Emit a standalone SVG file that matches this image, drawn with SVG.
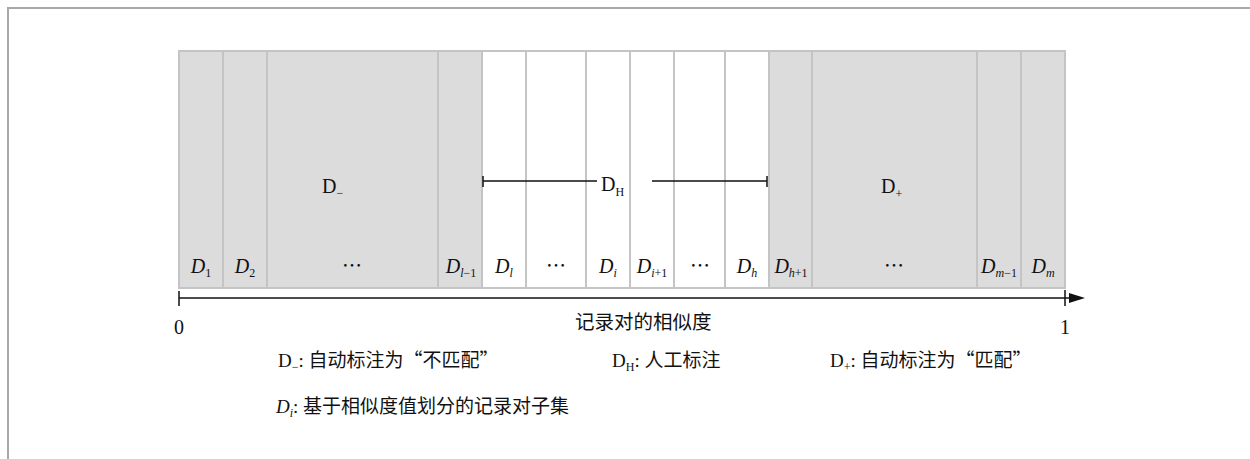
<svg xmlns="http://www.w3.org/2000/svg" width="1250" height="459" viewBox="0 0 1250 459">
<style>
.g{fill:#dcdcdc;stroke:#c4c4c4;stroke-width:2}
.w{fill:#ffffff;stroke:#c4c4c4;stroke-width:2}
.t{font-family:"Liberation Serif","Noto Sans CJK SC",serif;fill:#111;font-size:20px}
.i{font-style:italic}
.s{font-size:12px;font-style:normal}
.si{font-size:12px;font-style:italic}
.cn{font-family:"Liberation Serif","Noto Sans CJK SC",serif;fill:#111;font-size:19px}
.zh{font-family:"Noto Sans CJK SC",sans-serif}
.ln{stroke:#111;stroke-width:1.5;fill:none}
</style>
<defs>
<marker id="arr" markerWidth="16" markerHeight="10" refX="0" refY="5" orient="auto" markerUnits="userSpaceOnUse">
<path d="M0,0 L16,5 L0,10 Z" fill="#111"/>
</marker>
</defs>
<g id="frame">
<path d="M8,459 L8,8 L1250,8" fill="none" stroke="#a8a8a8" stroke-width="2"/>
</g>
<g id="columns">
<rect id="c1" class="g" x="179" y="51" width="44" height="237"/>
<rect id="c2" class="g" x="223" y="51" width="44" height="237"/>
<rect id="c3" class="g" x="267" y="51" width="171" height="237"/>
<rect id="c4" class="g" x="438" y="51" width="44" height="237"/>
<rect id="c5" class="w" x="482" y="51" width="44" height="237"/>
<rect id="c6" class="w" x="526" y="51" width="60" height="237"/>
<rect id="c7" class="w" x="586" y="51" width="44" height="237"/>
<rect id="c8" class="w" x="630" y="51" width="44" height="237"/>
<rect id="c9" class="w" x="674" y="51" width="51" height="237"/>
<rect id="c10" class="w" x="725" y="51" width="44" height="237"/>
<rect id="c11" class="g" x="769" y="51" width="43" height="237"/>
<rect id="c12" class="g" x="812" y="51" width="165" height="237"/>
<rect id="c13" class="g" x="977" y="51" width="44" height="237"/>
<rect id="c14" class="g" x="1021" y="51" width="44" height="237"/>
</g>
<g id="column-labels" class="t" text-anchor="middle">
<text x="201" y="273"><tspan class="i">D</tspan><tspan class="s" dy="4">1</tspan></text>
<text x="245" y="273"><tspan class="i">D</tspan><tspan class="s" dy="4">2</tspan></text>
<text x="352" y="273">⋯</text>
<text x="461" y="273"><tspan class="i">D</tspan><tspan class="si" dy="4">l</tspan><tspan class="s">−1</tspan></text>
<text x="504" y="273"><tspan class="i">D</tspan><tspan class="si" dy="4">l</tspan></text>
<text x="556" y="273">⋯</text>
<text x="608" y="273"><tspan class="i">D</tspan><tspan class="si" dy="4">i</tspan></text>
<text x="652" y="273"><tspan class="i">D</tspan><tspan class="si" dy="4">i</tspan><tspan class="s">+1</tspan></text>
<text x="700" y="273">⋯</text>
<text x="747" y="273"><tspan class="i">D</tspan><tspan class="si" dy="4">h</tspan></text>
<text x="791" y="273"><tspan class="i">D</tspan><tspan class="si" dy="4">h</tspan><tspan class="s">+1</tspan></text>
<text x="894" y="273">⋯</text>
<text x="999" y="273"><tspan class="i">D</tspan><tspan class="si" dy="4">m</tspan><tspan class="s">−1</tspan></text>
<text x="1043" y="273"><tspan class="i">D</tspan><tspan class="si" dy="4">m</tspan></text>
</g>
<g id="group-labels" class="t">
<text x="322" y="193">D<tspan class="s" dy="4">−</tspan></text>
<text x="601" y="191">D<tspan class="s" dy="5">H</tspan></text>
<text x="881" y="193">D<tspan class="s" dy="5">+</tspan></text>
</g>
<g id="connectors">
<path class="ln" d="M483,181 L597,181 M652,181 L767,181 M483,176 L483,187 M767,176 L767,187"/>
<path class="ln" d="M179,298 L1069,298" marker-end="url(#arr)"/>
<path class="ln" d="M179,291 L179,306 M1065,290 L1065,306"/>
</g>
<g id="axis-labels">
<text class="t" x="174" y="334">0</text>
<text class="t" x="1060" y="334">1</text>
<text class="cn zh" x="575" y="329" style="font-size:19.5px">记录对的相似度</text>
</g>
<g id="legend" class="cn">
<text x="278" y="367">D<tspan class="s" dy="4">−</tspan><tspan dy="-4">: </tspan><tspan class="zh">自动标注为“不匹配”</tspan></text>
<text x="612" y="367">D<tspan class="s" dy="4">H</tspan><tspan dy="-4">: </tspan><tspan class="zh">人工标注</tspan></text>
<text x="830" y="367">D<tspan class="s" dy="4">+</tspan><tspan dy="-4">: </tspan><tspan class="zh">自动标注为“匹配”</tspan></text>
<text x="276" y="413"><tspan class="i">D</tspan><tspan class="si" dy="4">i</tspan><tspan dy="-4">: </tspan><tspan class="zh">基于相似度值划分的记录对子集</tspan></text>
</g>
</svg>
